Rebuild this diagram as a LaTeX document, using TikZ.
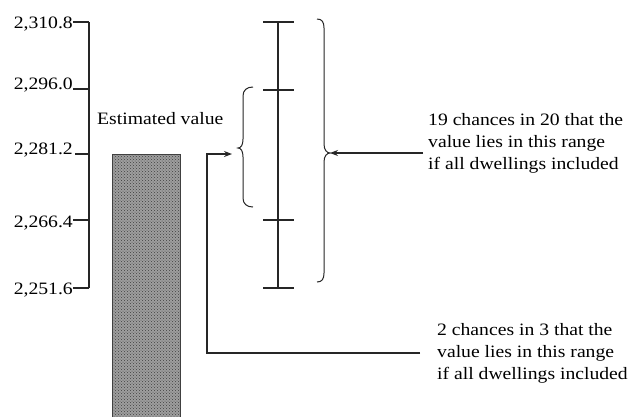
\documentclass[tikz,border=0pt]{standalone}
\usepackage{fontspec}
\setmainfont[FakeStretch=1.13]{Liberation Serif}
\usetikzlibrary{arrows.meta,patterns}
\begin{document}
\begin{tikzpicture}[x=1pt,y=-1pt,
  lab/.style={font=\fontsize{17.4}{22}\selectfont, inner sep=0pt},
  note/.style={font=\fontsize{17.4}{22}\selectfont, inner sep=0pt, align=left},
  ln/.style={draw=black!85, line width=1.1pt},
  arr/.style={ln, -{Stealth[length=8pt,width=6pt]}},
  barbox/.style={draw=black!75, line width=1pt, fill=black!38,
    postaction={pattern=crosshatch dots, pattern color=black!75},
    minimum width=68pt, minimum height=280pt, inner sep=0pt, anchor=north}]
\clip (0,0) rectangle (628,416);
\fill[white] (0,0) rectangle (628,416);

% axis
\coordinate (a1) at (89,22);
\coordinate (a2) at (89,89);
\coordinate (a3) at (89,154);
\coordinate (a4) at (89,220);
\coordinate (a5) at (89,288);
\node[lab, anchor=base east] (v1) at (73,28) {2,310.8};
\node[lab, anchor=base east] (v2) at (73,89) {2,296.0};
\node[lab, anchor=base east] (v3) at (73,154) {2,281.2};
\node[lab, anchor=base east] (v4) at (73,227) {2,266.4};
\node[lab, anchor=base east] (v5) at (73,294) {2,251.6};
\draw[ln] (a1) -- (a5);
\draw[ln] (v1.east |- a1) -- (a1);
\draw[ln] (v2.east |- a2) -- (a2);
\draw[ln] (v3.east |- a3) ++(2,0) -- (a3);
\draw[ln] (v4.east |- a4) -- (a4);
\draw[ln] (v5.east |- a5) -- (a5);

% bar
\node[lab, anchor=base west] (est) at (97,124) {Estimated value};
\node[barbox] (bar) at (146,154) {};

% error bar
\coordinate (e1) at (278,22);
\coordinate (e2) at (278,90);
\coordinate (e3) at (278,220);
\coordinate (e4) at (278,288);
\draw[ln] (e1) -- (e4);
\foreach \e in {e1,e2,e3,e4} \draw[ln] ([xshift=-15pt]\e) -- ([xshift=16pt]\e);

% small brace
\coordinate (stip) at (238,148);
\draw[ln, line width=1pt] (253,87) .. controls (247,87) and (243,90) .. (243,96) -- (243,139)
  .. controls (243,145) and (241,148) .. (stip)
  .. controls (241,148) and (243,151) .. (243,157) -- (243,198)
  .. controls (243,204) and (247,207) .. (253,207);

% big brace
\coordinate (btip) at (330,153);
\draw[ln, line width=1pt] (317,19) .. controls (322,19) and (324,22) .. (324,28) -- (324,144)
  .. controls (324,150) and (327,153) .. (btip)
  .. controls (327,153) and (324,156) .. (324,162) -- (324,273)
  .. controls (324,279) and (322,282) .. (317,282);

% notes
\node[note, anchor=north west] (t19) at (428,113) {19 chances in 20 that the\\value lies in this range\\if all dwellings included};
\node[note, anchor=north west] (t2) at (437,323) {2 chances in 3 that the\\value lies in this range\\if all dwellings included};

\coordinate (arrtip) at (232,154);
\coordinate (c1) at (207,353);
\draw[arr] (t19.west |- btip) ++(-5,0) -- (btip);
\draw[arr] (t2.west |- c1) ++(-17,0) -- (c1) -- (c1 |- arrtip) -- (arrtip);
\end{tikzpicture}
\end{document}
